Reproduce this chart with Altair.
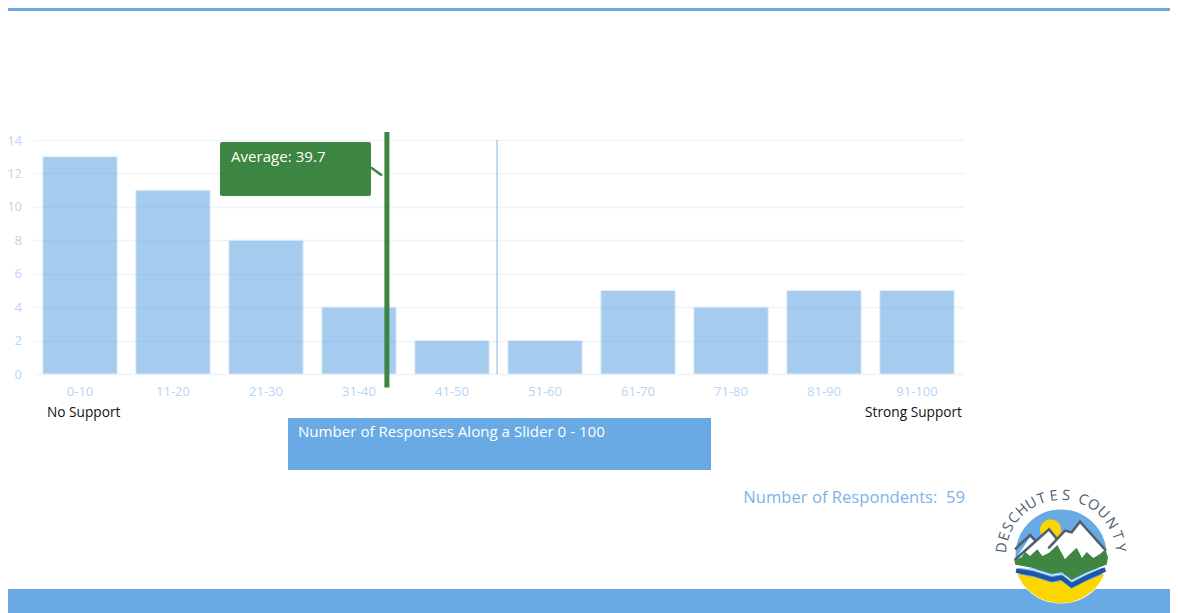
import math
import altair as alt
import pandas as pd

# ---- chart values ----
categories = ["0-10", "11-20", "21-30", "31-40", "41-50", "51-60", "61-70", "71-80", "81-90", "91-100"]
responses = [13, 11, 8, 4, 2, 2, 5, 4, 5, 5]
y_ticks = [0, 2, 4, 6, 8, 10, 12, 14]
average_label = "Average: 39.7"
average_marker = [38.0]      # where the picture draws the marker along the 0-100 slider
midline_marker = [49.85]
left_label = "No Support"
right_label = "Strong Support"
x_caption = "Number of Responses Along a Slider 0 - 100"
respondents = "Number of Respondents:\u00a0 59"
logo_text = "DESCHUTES COUNTY"
logo_angles = [-83, -72, -62, -52, -41, -30, -19, -7, 5, 13, 22, 33, 45, 58, 71, 83]

BLUE = "#6aaae4"
GREEN = "#3d8641"
FONT = "Open Sans"
ORIGIN_X, ORIGIN_Y = 33.5, 140
W, H = 930, 234
one = alt.Data(values=[{}])


def px(v):
    return alt.value(v - ORIGIN_X)


def py(v):
    return alt.value(v - ORIGIN_Y)


def box(x0, x1, y0, y1, color, **kw):
    return alt.Chart(one).mark_rect(color=color, **kw).encode(
        x=px(x0), x2=px(x1), y=py(y0), y2=py(y1))


def label(text, x, y, color, size, align="left"):
    return alt.Chart(one).mark_text(
        text=text, color=color, fontSize=size, font=FONT, align=align, baseline="middle"
    ).encode(x=px(x), y=py(y))


y_scale = alt.Scale(domain=[0, 14])
y_axis = alt.Axis(values=y_ticks, labelColor="#b9d5f3", labelFont=FONT, labelFontSize=13,
                  labelPadding=12, ticks=False, domain=False, grid=True, labelOverlap=False,
                  gridColor="#edf3fa", gridWidth=1.5)
df = pd.DataFrame({"range": categories, "count": responses})

bars = alt.Chart(df).mark_bar(
    color=BLUE, opacity=0.6, stroke="#d5e6f7", strokeWidth=1
).encode(
    x=alt.X("range:N", sort=categories, title=None,
            scale=alt.Scale(paddingInner=0.2, paddingOuter=0.1),
            axis=alt.Axis(labelAngle=0, labelColor="#b9d5f3", labelFont=FONT, labelFontSize=13,
                          labelPadding=11, ticks=False, domain=False, grid=False)),
    y=alt.Y("count:Q", title=None, scale=y_scale, axis=y_axis),
)

slider = alt.Scale(domain=[0, 100])
midline = alt.Chart(pd.DataFrame({"v": midline_marker, "a": [14], "b": [0]})).mark_rule(
    color="#a9ccef", strokeWidth=1.5
).encode(x=alt.X("v:Q", scale=slider, axis=None),
         y=alt.Y("a:Q", scale=y_scale, title=None, axis=y_axis), y2="b:Q")
avg_line = alt.Chart(pd.DataFrame({"v": average_marker, "a": [14.48], "b": [-0.81]})).mark_rule(
    color=GREEN, strokeWidth=5
).encode(x=alt.X("v:Q", scale=slider, axis=None),
         y=alt.Y("a:Q", scale=y_scale, title=None, axis=y_axis), y2="b:Q")

connector = alt.Chart(one).mark_rule(color=GREEN, strokeWidth=2.5).encode(
    x=px(371), x2=px(382), y=py(167.5), y2=py(175.5))
callout = box(220, 371, 142, 196, GREEN, cornerRadius=2)
callout_text = label(average_label, 231, 156.5, "#ffffff", 15.1)

caption_box = box(288, 711, 418, 470, BLUE)
caption_text = label(x_caption, 298, 432, "#ffffff", 15.1)
left_text = label(left_label, 47, 413, "#111111", 13.7)
right_text = label(right_label, 962, 413, "#111111", 13.7, "right")
resp_text = label(respondents, 965, 497.5, "#7db3ea", 16.6, "right")

top_band = box(0, 1178, 0, 11, BLUE)
bottom_band = box(0, 1178, 589, 613, BLUE)

# ---- logo, outlined in a 3x crop of the emblem; centre (243, 225), radius 141 there ----
LOGO_CX, LOGO_CY, LOGO_R = 1061, 555, 47
CROP_C = (243, 225)
CROP_R = 141


def u(p):
    return f"{(p[0] - CROP_C[0]) / CROP_R:.3f},{(p[1] - CROP_C[1]) / CROP_R:.3f}"


def poly(points, close=True):
    d = "M" + " L".join(u(p) for p in points)
    return d + (" Z" if close else "")


circle_path = "M-1,0 A1,1 0 1 1 1,0 A1,1 0 1 1 -1,0 Z"
sun = [(212 + 32 * math.cos(math.radians(a)), 150 + 32 * math.sin(math.radians(a))) for a in range(0, 360, 20)]
snow = [(103, 242), (150, 172), (165, 184), (205, 150), (232, 178), (255, 155), (275, 158), (300, 128), (381, 215), (381, 265), (106, 265)]
ridge1 = [(105, 208), (150, 165), (166, 182)]
ridge2 = [(104, 240), (207, 148), (232, 178)]
ridge3 = [(205, 205), (255, 152), (275, 157), (300, 125), (378, 212)]
trees = [(103, 240), (125, 232), (135, 215), (150, 228), (172, 208), (187, 228), (207, 218), (232, 195),
         (255, 238), (266, 226), (290, 203), (306, 234), (320, 216), (340, 234), (360, 222), (376, 208),
         (384, 232), (380, 254), (320, 276), (275, 298), (245, 276), (215, 281), (160, 264), (106, 254)]
river = [(108, 272), (160, 281), (215, 298), (245, 293), (275, 316), (320, 293), (376, 268)]
river_edge = [(106, 259), (160, 269), (215, 286), (245, 281), (275, 304), (320, 281), (380, 256)]
shore = [(112, 282), (160, 291), (215, 308), (245, 303), (275, 326), (320, 303), (373, 281)]
yellow = "M" + " L".join(u(p) for p in shore) + f" A1,1 0 0 1 {u(shore[0])} Z"


def emblem(path, fill=None, stroke=None, width=0):
    kw = {"shape": path, "size": (2 * LOGO_R) ** 2, "opacity": 1}
    if fill:
        kw.update(filled=True, fill=fill)
    else:
        kw.update(filled=False, fill="transparent")
    if stroke:
        kw.update(stroke=stroke, strokeWidth=width)
    else:
        kw.update(strokeWidth=0)
    return alt.Chart(one).mark_point(**kw).encode(x=px(LOGO_CX), y=py(LOGO_CY))


logo = [
    emblem(circle_path, "#6aaae4", "#ffffff", 3),
    emblem(poly(sun), "#fdd600"),
    emblem(poly(snow), "#ffffff"),
    emblem(poly(ridge1, False), None, "#4d6072", 2.5),
    emblem(poly(ridge2, False), None, "#4d6072", 2.5),
    emblem(poly(ridge3, False), None, "#4d6072", 2.5),
    emblem(poly(trees), "#3f8642"),
    emblem(poly(river_edge, False), None, "#ffffff", 1),
    emblem(yellow, "#fdd600"),
    emblem(poly(river, False), None, "#1f55a5", 4.5),
]

arc = pd.DataFrame({"ch": list(logo_text), "a": logo_angles})
arc["px"] = [LOGO_CX - ORIGIN_X + 59 * math.sin(math.radians(a)) for a in arc["a"]]
arc["py"] = [LOGO_CY - ORIGIN_Y - 59 * math.cos(math.radians(a)) for a in arc["a"]]
arc["rot"] = [a % 360 for a in arc["a"]]
letters = alt.Chart(arc).mark_text(
    font=FONT, fontSize=14.5, color="#4d6072", baseline="middle", align="center"
).encode(
    x=alt.X("px:Q", scale=None, axis=None),
    y=alt.Y("py:Q", scale=None, axis=None),
    text="ch:N",
    angle=alt.Angle("rot:Q", scale=None),
)

chart = alt.layer(bars, midline, connector, callout, callout_text, avg_line,
                  caption_box, caption_text, left_text, right_text, resp_text,
                  top_band, bottom_band, *logo, letters).resolve_scale(x="independent").properties(
    width=W, height=H,
    padding={"left": 25.5, "top": 132, "right": 206.5, "bottom": 239},
    autosize=alt.AutoSizeParams(type="none"),
    background="#ffffff",
).configure_view(stroke=None)

chart.save("out.html", embed_options={"renderer": "svg", "actions": False})
